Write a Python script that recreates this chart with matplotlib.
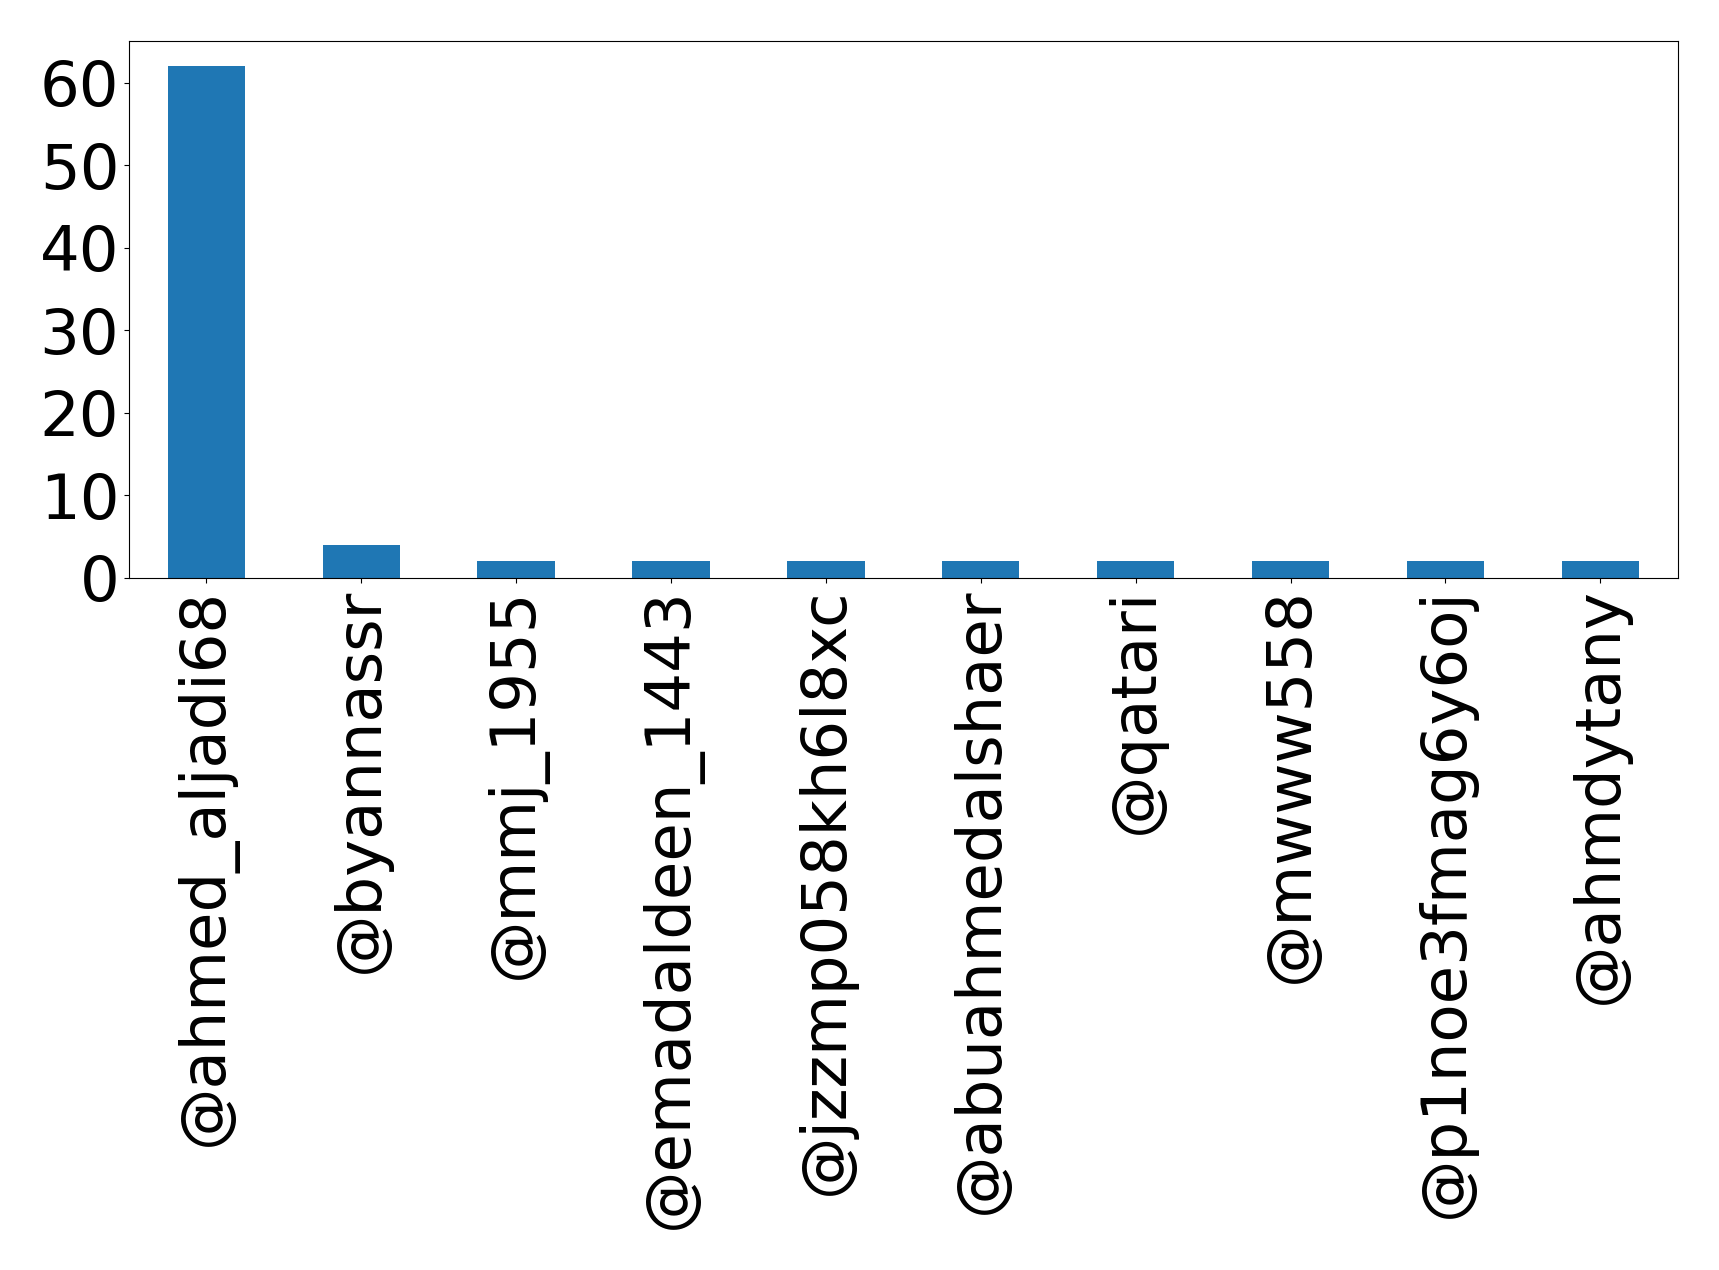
import matplotlib
matplotlib.use("Agg")
import matplotlib.pyplot as plt
from matplotlib.ticker import MultipleLocator
import pandas as pd

users = ['@ahmed_aljadi68', '@byannassr', '@mmj_1955', '@emadaldeen_1443',
         '@jzzmp058kh6l8xc', '@abuahmedalshaer', '@qatari', '@mwww558',
         '@p1noe3fmag6y6oj', '@ahmdytany']
counts = [62, 4, 2, 2, 2, 2, 2, 2, 2, 2]

s = pd.Series(counts, index=users)

fig = plt.figure(figsize=(17.19, 12.7), dpi=100)
ax = fig.add_axes([0.075, 0.545, 0.901, 0.423])
s.plot(kind='bar', ax=ax, color='#1f77b4', fontsize=45)
ax.tick_params(axis='both', labelsize=45)
ax.yaxis.set_major_locator(MultipleLocator(10))

plt.savefig('out.png', dpi=100)
